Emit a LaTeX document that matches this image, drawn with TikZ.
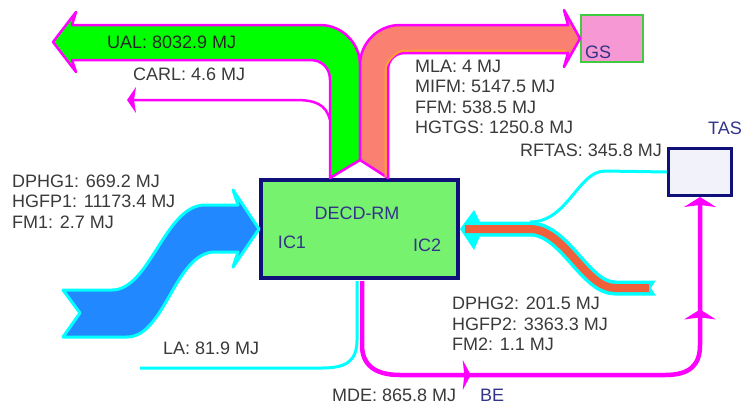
\documentclass[tikz,border=0pt]{standalone}
\usepackage{fontspec}
\setmainfont{Liberation Sans}
\usetikzlibrary{arrows.meta,decorations.markings}

\definecolor{boxgreen}{HTML}{77F26E}
\definecolor{boxnavy}{HTML}{10107A}
\definecolor{ualgreen}{HTML}{00FF00}
\definecolor{mlasalmon}{HTML}{FA8072}
\definecolor{mlaorange}{HTML}{FFA030}
\definecolor{dphgblue}{HTML}{2288FF}
\definecolor{dphgred}{HTML}{F0603A}
\definecolor{lineaqua}{HTML}{00FFFF}
\definecolor{linemag}{HTML}{FF00FF}
\definecolor{gspink}{HTML}{F598D3}
\definecolor{gsgreen}{HTML}{40CC40}
\definecolor{tasfill}{HTML}{F2F2FA}
\definecolor{labelgray}{HTML}{3A3A3A}
\definecolor{labelnavy}{HTML}{33338A}

\tikzset{
  lbl/.style={anchor=west, inner sep=0pt, text=labelgray, align=left,
    font=\fontsize{18}{20.5}\selectfont},
  tag/.style={inner sep=0pt, text=labelnavy, font=\fontsize{18}{20.5}\selectfont},
  flowbox/.style={draw=boxnavy, line width=4pt, inner sep=0pt},
  magband/.style={draw=linemag, line width=2.5pt, line join=round},
  magtip/.style={-{Stealth[length=10pt, width=32pt, inset=2pt, line width=0pt]}},
}

\begin{document}
\begin{tikzpicture}[x=1pt, y=-1pt]
\useasboundingbox (0,0) rectangle (744,405);

%Box Drawing

\node [flowbox, fill=boxgreen, minimum width=197pt, minimum height=98pt] (rm) at (359.5,229) {};
\node [draw=gsgreen, line width=2pt, fill=gspink, inner sep=0pt, minimum width=62pt, minimum height=47pt] (gs) at (612,38.5) {};
\node [flowbox, line width=3pt, fill=tasfill, minimum width=63pt, minimum height=47pt] (tas) at (700,172) {};

%Band Drawings

\draw [magband, fill=ualgreen] (330,178) -- (330,80) .. controls (330,68) and (322,60) .. (310,60) -- (72,60) -- (76,72) -- (53,42) -- (76,12) -- (72,25) -- (320,25) .. controls (342,25) and (360,43) .. (360,65) -- (360,160) -- cycle;

\draw [magband, fill=mlasalmon] (360,160) -- (360,65) .. controls (360,43) and (378,25) .. (400,25) -- (568,25) -- (564,10) -- (gs.west) -- (564,67) -- (568,53) -- (405,53) .. controls (395,53) and (388,60) .. (388,70) -- (388,178) -- cycle;
\draw [mlaorange, line width=2pt] (385.5,177) -- (385.5,70) .. controls (385.5,62) and (396,50.5) .. (405,50.5) -- (566,50.5);

\draw [lineaqua, line width=3pt, fill=dphgblue, line join=round] (63,290) -- (112,290) .. controls (150,290) and (165,205) .. (205,205) -- (238,205) -- (233,190) -- (rm.west) -- (233,267) -- (238,252) -- (215,252) .. controls (175,252) and (165,337) .. (127,337) -- (63,337) -- (80,313) -- cycle;

\draw [lineaqua, line width=3pt] (tas.west) -- (605,171) .. controls (578,171) and (568,222) .. (530,222);
\draw [lineaqua, line width=15pt] (656,288) -- (615,288) .. controls (585,288) and (565,229) .. (530,229) -- (478,229);
\fill [lineaqua] (rm.east) -- (474,210) -- (480,222) -- (480,236) -- (474,250) -- cycle;
\draw [dphgred, line width=8pt] (649,288) -- (615,288) .. controls (585,288) and (565,229) .. (530,229) -- (465,229);
\fill [white] (657,279) -- (651,288) -- (657,297) -- cycle;

%Line Drawings

\coordinate (carl start) at (330,120);
\coordinate (la start) at (357,281);
\coordinate (la end) at (140,368);
\coordinate (mde start) at (362,281);

\draw [linemag, line width=2.5pt, -{Stealth[length=9pt, width=26pt, inset=2pt, line width=0pt]}] (carl start) .. controls (326,104) and (315,100) .. (295,100) -- (127,100);
\draw [lineaqua, line width=3pt] (la start) -- (357,340) .. controls (357,362) and (345,368) .. (322,368) -- (la end);
\draw [linemag, line width=4.5pt, magtip, postaction={decorate},
  decoration={markings,
    mark=at position 190pt with {\arrow{Stealth[length=8pt, width=30pt, inset=1.5pt, line width=0pt]}},
    mark=at position 473pt with {\arrow{Stealth[length=10pt, width=32pt, inset=2pt, line width=0pt]}}}]
  (mde start) -- (362,345) .. controls (362,365) and (375,375) .. (400,375) -- (665,375) .. controls (690,375) and (700,365) .. (700,345) -- (tas.south);

%Node labels

\node [tag] (rmname) at (357,213) {DECD-RM};
\node [tag] (ic1) at (292,242) {IC1};
\node [tag] (ic2) at (427,245) {IC2};
\node [tag, anchor=west] (gsname) at (585,52) {GS};
\node [tag, anchor=west] (tasname) at (708,128) {TAS};
\node [tag, anchor=west] (be) at (480,395) {BE};

\node [lbl, text=black!85] (ual) at (107,42) {UAL: 8032.9 MJ};
\node [lbl] (carl) at (133,74) {CARL: 4.6 MJ};
\node [lbl] (mla) at (415,97) {MLA: 4 MJ\\MIFM: 5147.5 MJ\\FFM: 538.5 MJ\\HGTGS: 1250.8 MJ};
\node [lbl] (rftas) at (520,150) {RFTAS: 345.8 MJ};
\node [lbl] (dphg1) at (12,201.5) {DPHG1: 669.2 MJ\\HGFP1: 11173.4 MJ\\FM1: 2.7 MJ};
\node [lbl] (dphg2) at (452,324) {DPHG2: 201.5 MJ\\HGFP2: 3363.3 MJ\\FM2: 1.1 MJ};
\node [lbl] (la) at (163,348) {LA: 81.9 MJ};
\node [lbl] (mde) at (332,395) {MDE: 865.8 MJ};

\end{tikzpicture}
\end{document}
